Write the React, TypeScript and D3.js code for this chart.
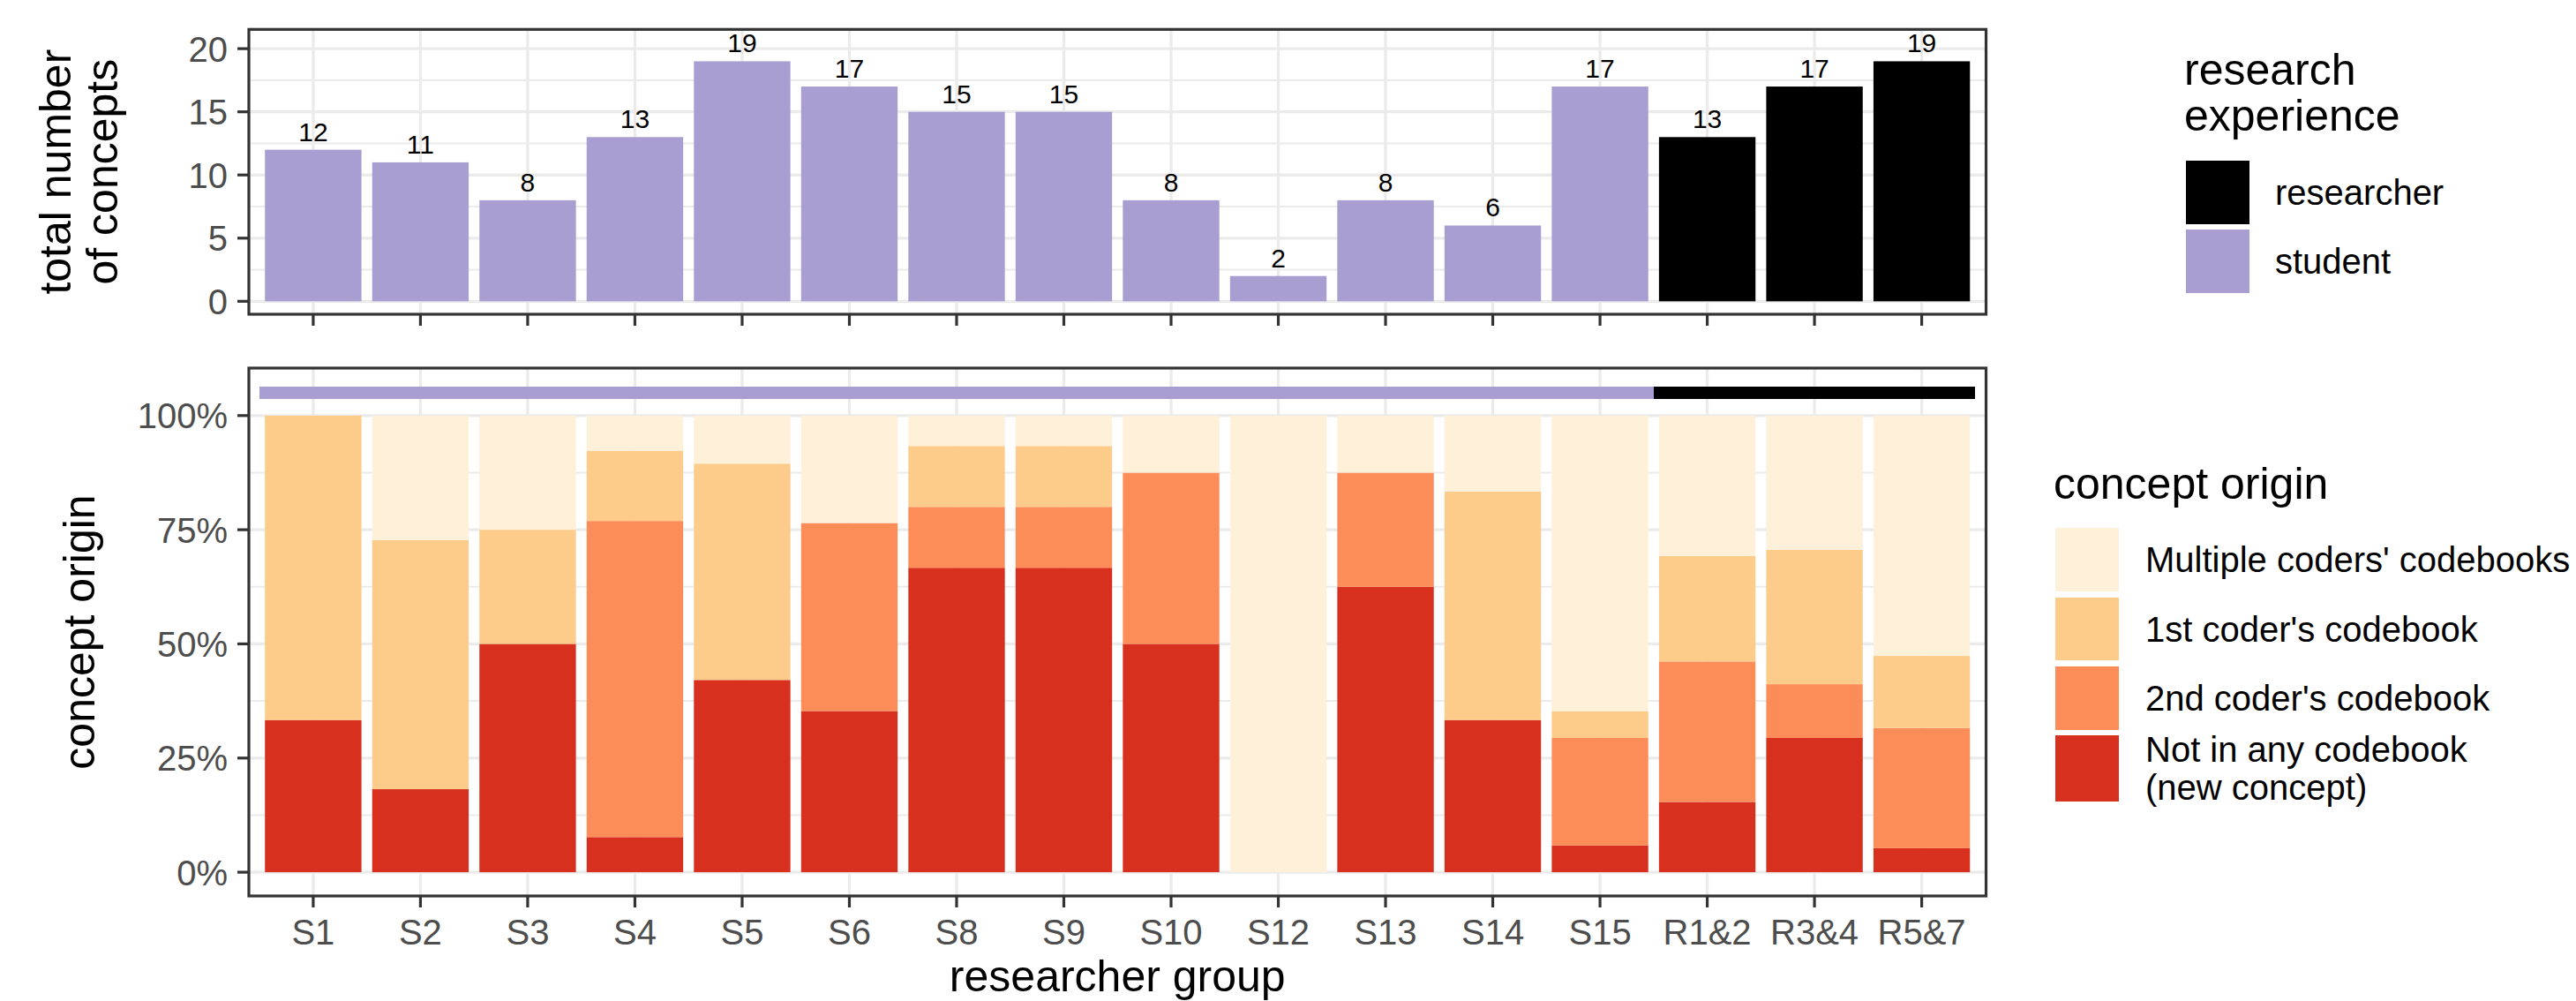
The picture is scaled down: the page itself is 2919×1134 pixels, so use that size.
import React from "react";
import * as d3 from "d3";

const categories = ["S1","S2","S3","S4","S5","S6","S8","S9","S10","S12","S13","S14","S15","R1&2","R3&4","R5&7"];
const experience = ["student","student","student","student","student","student","student","student","student","student","student","student","student","researcher","researcher","researcher"];
const totalConcepts = [12,11,8,13,19,17,15,15,8,2,8,6,17,13,17,19];
const newConcept = [4,2,4,1,8,6,10,10,4,0,5,2,1,2,5,1];
const secondCoder = [0,0,0,9,0,7,2,2,3,0,2,0,4,4,2,5];
const firstCoder = [8,6,2,2,9,0,2,2,0,0,0,3,1,3,5,3];
const multipleCoders = [0,3,2,1,2,4,1,1,1,2,1,1,11,4,5,10];

const experienceLevels = ["researcher","student"];
const experienceColors = ["#000000","#A89ED2"];
const originKeys = ["new","second","first","multiple"];
const originLabels: Record<string,string[]> = {
  multiple: ["Multiple coders' codebooks"],
  first: ["1st coder's codebook"],
  second: ["2nd coder's codebook"],
  new: ["Not in any codebook","(new concept)"],
};
const originColors = ["#D7301F","#FC8D59","#FDCC8A","#FEF0D9"];
const topTicks = [0,5,10,15,20];
const topMinor = [2.5,7.5,12.5,17.5];
const botTicks = [0,0.25,0.5,0.75,1];
const botMinor = [0.125,0.375,0.625,0.875];

const FONT = "'Liberation Sans', Arial, sans-serif";
const W = 2919, H = 1134;
const PL = 282, PR = 2250.5;
const TOP = { y0: 33.3, y1: 356 };
const BOT = { y0: 417, y1: 1015 };

export default function App() {
  const x = d3.scaleBand<string>().domain(categories).range([PL, PR]).paddingInner(0.1).paddingOuter(0.15);
  const cx = (c: string) => (x(c) as number) + x.bandwidth() / 2;
  const step = x.step();
  const yTop = d3.scaleLinear().domain([-1.025, 21.525]).range([TOP.y1, TOP.y0]);
  const yBot = d3.scaleLinear().domain([-0.052, 1.104]).range([BOT.y1, BOT.y0]);
  const expColor = d3.scaleOrdinal<string,string>().domain(experienceLevels).range(experienceColors);
  const originColor = d3.scaleOrdinal<string,string>().domain(originKeys).range(originColors);

  const rows = categories.map((c, i) => ({
    cat: c, new: newConcept[i], second: secondCoder[i], first: firstCoder[i], multiple: multipleCoders[i],
  }));
  const stacked = d3.stack<any>().keys(originKeys).offset(d3.stackOffsetExpand)(rows);

  const gridMajor = "#EBEBEB";
  const tickColor = "#333333";
  const tickText = "#4D4D4D";
  const tickFs = 40;
  const titleFs = 50;

  const yAxis = (ticks: number[], scale: d3.ScaleLinear<number, number>, fmt: (v: number) => string) => (
    <g>
      {ticks.map((t) => (
        <g key={t}>
          <line x1={269} x2={PL} y1={scale(t)} y2={scale(t)} stroke={tickColor} strokeWidth={3.2} />
          <text x={258} y={scale(t) + tickFs * 0.36} textAnchor="end" fontSize={tickFs} fill={tickText} fontFamily={FONT}>{fmt(t)}</text>
        </g>
      ))}
    </g>
  );

  const grid = (panel: { y0: number; y1: number }, major: number[], minor: number[], scale: d3.ScaleLinear<number, number>) => (
    <g>
      {minor.map((t) => (
        <line key={"mi" + t} x1={PL} x2={PR} y1={scale(t)} y2={scale(t)} stroke={gridMajor} strokeWidth={2} />
      ))}
      {major.map((t) => (
        <line key={"ma" + t} x1={PL} x2={PR} y1={scale(t)} y2={scale(t)} stroke={gridMajor} strokeWidth={3.3} />
      ))}
      {categories.map((c) => (
        <line key={"v" + c} x1={cx(c)} x2={cx(c)} y1={panel.y0} y2={panel.y1} stroke={gridMajor} strokeWidth={3.3} />
      ))}
    </g>
  );

  const pct = d3.format(".0%");
  const legendOrder = ["multiple", "first", "second", "new"];
  const legendKeyY = [598, 677, 755, 833];
  const legendKeyH = [72, 71, 72, 75];

  return (
    <svg width={W} height={H} style={{ position: "absolute", left: 0, top: 0, background: "#fff" }} fontFamily={FONT}>
      <rect x={0} y={0} width={W} height={H} fill="#fff" />

      {/* top panel */}
      {grid(TOP, topTicks, topMinor, yTop)}
      {categories.map((c, i) => (
        <rect key={"b" + c} x={x(c)} width={x.bandwidth()} y={yTop(totalConcepts[i])} height={yTop(0) - yTop(totalConcepts[i])} fill={expColor(experience[i])} />
      ))}
      {categories.map((c, i) => (
        <text key={"l" + c} x={cx(c)} y={yTop(totalConcepts[i]) - 10} textAnchor="middle" fontSize={30} fill="#000">{totalConcepts[i]}</text>
      ))}
      <rect x={PL} y={TOP.y0} width={PR - PL} height={TOP.y1 - TOP.y0} fill="none" stroke={tickColor} strokeWidth={3.2} />
      {yAxis(topTicks, yTop, (v) => String(v))}
      {categories.map((c) => (
        <line key={"tx" + c} x1={cx(c)} x2={cx(c)} y1={TOP.y1} y2={TOP.y1 + 13} stroke={tickColor} strokeWidth={3.2} />
      ))}
      <text transform={`translate(80,${(TOP.y0 + TOP.y1) / 2}) rotate(-90)`} textAnchor="middle" fontSize={titleFs} fill="#000">total number</text>
      <text transform={`translate(133,${(TOP.y0 + TOP.y1) / 2}) rotate(-90)`} textAnchor="middle" fontSize={titleFs} fill="#000">of concepts</text>

      {/* bottom panel */}
      {grid(BOT, botTicks, botMinor, yBot)}
      {stacked.map((layer) => (
        <g key={layer.key} fill={originColor(layer.key)}>
          {layer.map((d, i) => (
            <rect key={i} x={x(categories[i])} width={x.bandwidth()} y={yBot(d[1])} height={Math.max(0, yBot(d[0]) - yBot(d[1]))} />
          ))}
        </g>
      ))}
      <g shapeRendering="crispEdges">
        {categories.map((c, i) => (
          <rect key={"s" + c} x={cx(c) - step / 2} width={step + (i < categories.length - 1 ? 1 : 0)} y={yBot(1.0635)} height={yBot(1.0365) - yBot(1.0635)} fill={expColor(experience[i])} />
        ))}
      </g>
      <rect x={PL} y={BOT.y0} width={PR - PL} height={BOT.y1 - BOT.y0} fill="none" stroke={tickColor} strokeWidth={3.2} />
      {yAxis(botTicks, yBot, pct)}
      {categories.map((c) => (
        <g key={"bx" + c}>
          <line x1={cx(c)} x2={cx(c)} y1={BOT.y1} y2={BOT.y1 + 13} stroke={tickColor} strokeWidth={3.2} />
          <text x={cx(c)} y={1070} textAnchor="middle" fontSize={tickFs} fill={tickText}>{c}</text>
        </g>
      ))}
      <text transform={`translate(107,${(BOT.y0 + BOT.y1) / 2}) rotate(-90)`} textAnchor="middle" fontSize={titleFs} fill="#000">concept origin</text>
      <text x={(PL + PR) / 2} y={1123} textAnchor="middle" fontSize={titleFs} fill="#000">researcher group</text>

      {/* legend: research experience */}
      <text x={2475} y={96} fontSize={titleFs} fill="#000">research</text>
      <text x={2475} y={148} fontSize={titleFs} fill="#000">experience</text>
      {experienceLevels.map((lv, i) => (
        <g key={lv}>
          <rect x={2477} y={182 + i * 78} width={72} height={72} fill={expColor(lv)} />
          <text x={2578} y={182 + i * 78 + 36 + tickFs * 0.36} fontSize={tickFs} fill="#000">{lv}</text>
        </g>
      ))}

      {/* legend: concept origin */}
      <text x={2327} y={565} fontSize={titleFs} fill="#000">concept origin</text>
      {legendOrder.map((k, i) => {
        const lines = originLabels[k];
        const cy = legendKeyY[i] + legendKeyH[i] / 2;
        const lh = 43;
        const first = cy - ((lines.length - 1) * lh) / 2 + tickFs * 0.36;
        return (
          <g key={k}>
            <rect x={2329} y={legendKeyY[i]} width={72} height={legendKeyH[i]} fill={originColor(k)} />
            {lines.map((ln, j) => (
              <text key={j} x={2431} y={first + j * lh} fontSize={tickFs} fill="#000">{ln}</text>
            ))}
          </g>
        );
      })}
    </svg>
  );
}
